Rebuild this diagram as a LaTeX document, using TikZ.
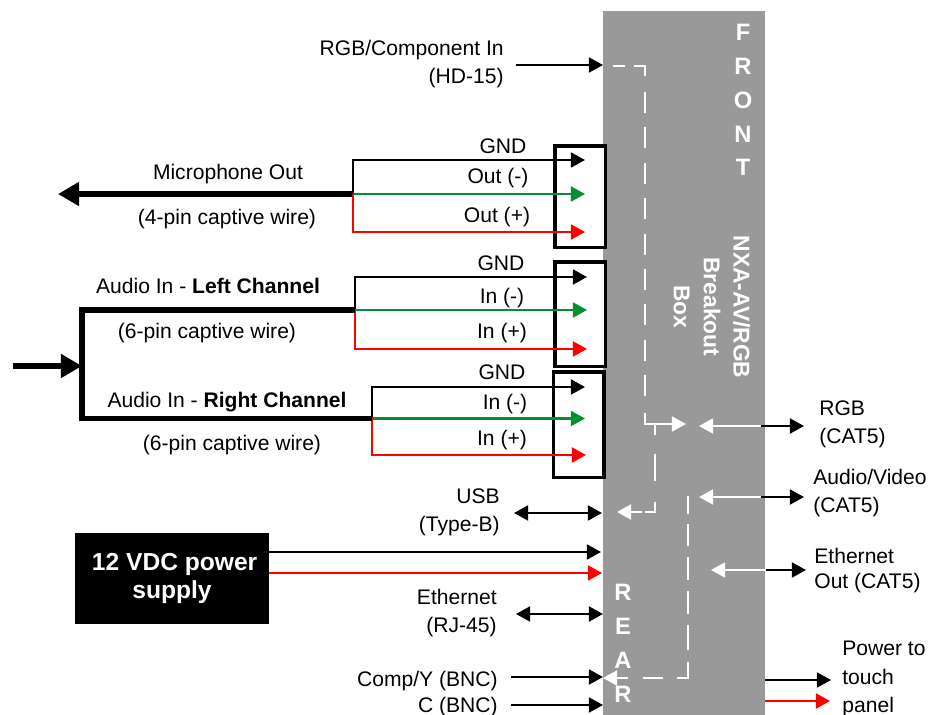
\documentclass[tikz,border=0pt]{standalone}
\usepackage{fontspec}
\setmainfont{Liberation Sans}
\usetikzlibrary{arrows.meta}
\definecolor{panelgray}{HTML}{999999}
\definecolor{wiregreen}{HTML}{009030}
\begin{document}
\begin{tikzpicture}[x=0.02cm,y=0.02cm]
\tikzstyle{every node}+=[inner sep=0pt]
\tikzstyle{lbl}=[font=\fontsize{12}{16}\selectfont]
\tikzstyle{lblleft}=[lbl,anchor=west,align=left]
\tikzstyle{lblright}=[lbl,anchor=east,align=right]
\tikzstyle{panellbl}=[text=white,align=center,font=\fontsize{13.5}{19.3}\selectfont\bfseries]
\tikzstyle{wire}=[line width=1.2pt,-{Triangle[length=8pt,width=8.5pt]}]
\tikzstyle{wirend}=[line width=1.2pt,{Triangle[length=8pt,width=8.5pt]}-{Triangle[length=8pt,width=8.5pt]}]
\tikzstyle{bigwire}=[line width=3.4pt,-{Triangle[length=12pt,width=13pt]}]
\tikzstyle{trunk}=[line width=3.4pt]
\tikzstyle{inner}=[white,line width=1.2pt]
\tikzstyle{innerdash}=[inner,dash pattern=on 11.9pt off 8.25pt]
\tikzstyle{terminal}=[draw=black,fill=white,line width=1.8pt,outer sep=0pt,anchor=north west]
\useasboundingbox (0,0) rectangle (929,-715);
\fill [panelgray] (603,-11) rectangle (765,-715);
\node [terminal,minimum width=28.5pt,minimum height=58pt] (micbox) at (555,-146) {};
\node [terminal,minimum width=28.5pt,minimum height=59.7pt] (leftbox) at (555,-262) {};
\node [terminal,minimum width=28.7pt,minimum height=60pt] (rightbox) at (553.5,-372) {};
\node [panellbl] (front) at (743,-100) {F\\R\\O\\N\\T};
\node [panellbl] (rear) at (623,-643) {R\\E\\A\\R};
\node [panellbl,font=\fontsize{13}{17}\selectfont\bfseries,rotate=-90] (model) at (712,-307) {NXA-AV/RGB\\Breakout\\Box};
\node [lblright] (hdin) at (504,-64) {RGB/Component In\\(HD-15)};
\node [lbl] (micout) at (228,-174) {Microphone Out};
\node [lbl] (micwire) at (227,-219) {(4-pin captive wire)};
\node [lbl] (micgnd) at (503,-146) {GND};
\node [lbl] (micneg) at (498,-178) {Out (-)};
\node [lbl] (micpos) at (497,-217) {Out (+)};
\node [lbl] (leftin) at (208,-286) {Audio In - \textbf{Left Channel}};
\node [lbl] (leftwire) at (207,-333) {(6-pin captive wire)};
\node [lbl] (leftgnd) at (501,-263) {GND};
\node [lbl] (leftneg) at (502,-298) {In (-)};
\node [lbl] (leftpos) at (502,-333) {In (+)};
\node [lbl] (rightin) at (227,-402) {Audio In - \textbf{Right Channel}};
\node [lbl] (rightwire) at (232,-445) {(6-pin captive wire)};
\node [lbl] (rightgnd) at (502,-372) {GND};
\node [lbl] (rightneg) at (505,-404) {In (-)};
\node [lbl] (rightpos) at (502,-440) {In (+)};
\node [lblright] (usb) at (500,-512) {USB\\(Type-B)};
\node [lblright] (enet) at (497,-613) {Ethernet\hspace{1pt}\\(RJ-45)};
\node [lblright] (comp) at (498,-681) {Comp/Y (BNC)};
\node [lblright] (cbnc) at (498,-707) {C (BNC)};
\node [lblleft] (rgbcat) at (819,-424.5) {RGB\\(CAT5)};
\node [lblleft] (avcat) at (813,-493) {Audio/Video\\(CAT5)};
\node [lblleft] (enetcat) at (814,-570.5) {Ethernet\\[-1.7pt]Out (CAT5)};
\node [lblleft] (touch) at (842,-679) {Power to\\touch\\panel};
\node [fill=black,text=white,align=center,minimum width=110.4pt,minimum height=51.8pt,font=\fontsize{14}{16}\selectfont\bfseries] (psu) at (172,-578.5) {\hspace{3pt}12 VDC power\\supply\hspace{2pt}};
\coordinate (micjoin) at (353,-194);
\coordinate (miclead) at (58,-194);
\coordinate (micgndA) at (353,-160);
\coordinate (micgndB) at (585,-160);
\coordinate (micnegB) at (585,-194);
\coordinate (micposA) at (353,-232);
\coordinate (micposB) at (585,-232);
\coordinate (leftjoin) at (355,-310);
\coordinate (leftgndA) at (355,-277);
\coordinate (leftgndB) at (587,-277);
\coordinate (leftnegB) at (587,-310);
\coordinate (leftposA) at (355,-349);
\coordinate (leftposB) at (587,-349);
\coordinate (rightjoin) at (372,-418.5);
\coordinate (rightgndA) at (372,-387);
\coordinate (rightgndB) at (585,-387);
\coordinate (rightnegB) at (585,-418.5);
\coordinate (rightposA) at (372,-455);
\coordinate (rightposB) at (586,-455);
\coordinate (trunktop) at (82,-310);
\coordinate (trunkbot) at (82,-418.5);
\coordinate (audiofeed) at (13,-366);
\coordinate (trunkmid) at (82,-366);
\draw [bigwire] (micjoin) -- (miclead);
\draw [black,wire] (micjoin) -- (micgndA) -- (micgndB);
\draw [wiregreen,wire] (micjoin) -- (micnegB);
\draw [red,wire] (micjoin) -- (micposA) -- (micposB);
\draw [black,wire] (leftjoin) -- (leftgndA) -- (leftgndB);
\draw [wiregreen,wire] (leftjoin) -- (leftnegB);
\draw [red,wire] (leftjoin) -- (leftposA) -- (leftposB);
\draw [black,wire] (rightjoin) -- (rightgndA) -- (rightgndB);
\draw [wiregreen,wire] (rightjoin) -- (rightnegB);
\draw [red,wire] (rightjoin) -- (rightposA) -- (rightposB);
\draw [trunk] (leftjoin) -- (trunktop) -- (trunkbot) -- (rightjoin);
\draw [bigwire] (audiofeed) -- (trunkmid);
\coordinate (hdA) at (516,-65);
\coordinate (hdB) at (603,-65);
\coordinate (usbA) at (514,-513);
\coordinate (usbB) at (602,-513);
\coordinate (psuredA) at (269,-573);
\coordinate (psuredB) at (602,-573);
\coordinate (psublkA) at (269,-552);
\coordinate (psublkB) at (601,-552);
\coordinate (enetA) at (516,-614);
\coordinate (enetB) at (603,-614);
\coordinate (compA) at (511,-677);
\coordinate (compB) at (603,-677);
\coordinate (cbncA) at (511,-705);
\coordinate (cbncB) at (603,-705);
\draw [black,wire] (hdA) -- (hdB);
\draw [black,wirend] (usbA) -- (usbB);
\draw [black,wire] (psublkA) -- (psublkB);
\draw [red,wire] (psuredA) -- (psuredB);
\draw [black,wirend] (enetA) -- (enetB);
\draw [black,wire] (compA) -- (compB);
\draw [black,wire] (cbncA) -- (cbncB);
\coordinate (pwrA) at (765,-680);
\coordinate (pwrB) at (831,-680);
\coordinate (pwrC) at (765,-701);
\coordinate (pwrD) at (830,-701);
\draw [black,wire] (pwrA) -- (pwrB);
\draw [red,wire] (pwrC) -- (pwrD);
\coordinate (rgbedge) at (761,-426);
\coordinate (rgbtip) at (699,-426);
\coordinate (rgbout) at (804,-426);
\coordinate (avedge) at (761,-497);
\coordinate (avtip) at (699,-497);
\coordinate (avout) at (804,-497);
\coordinate (enetedge) at (766,-570);
\coordinate (enettip) at (711,-570);
\coordinate (enetout) at (806,-570);
\draw [white,wire] (rgbedge) -- (rgbtip);
\draw [black,wire] (rgbedge) -- (rgbout);
\draw [white,wire] (avedge) -- (avtip);
\draw [black,wire] (avedge) -- (avout);
\draw [white,wire] (enetedge) -- (enettip);
\draw [black,wire] (enetedge) -- (enetout);
\coordinate (hdrunA) at (613,-66);
\coordinate (hdrunB) at (645,-66);
\coordinate (hdrunC) at (645,-76);
\coordinate (hdrunD) at (645,-92);
\coordinate (hdrunE) at (645,-400);
\coordinate (hdrunF) at (645,-413);
\coordinate (hdrunG) at (645,-424);
\coordinate (hdrunH) at (686,-424);
\coordinate (usbrunA) at (655,-425);
\coordinate (usbrunB) at (655,-512);
\coordinate (usbrunC) at (645,-512);
\coordinate (usbrunD) at (642,-512);
\coordinate (usbrunE) at (617,-512);
\coordinate (comprunA) at (688,-496);
\coordinate (comprunB) at (688,-678);
\coordinate (comprunC) at (628,-678);
\coordinate (comprunD) at (603,-678);
\draw [inner,dash pattern=on 6.8pt off 5.1pt on 12pt off 20pt] (hdrunA) -- (hdrunB) -- (hdrunC);
\draw [innerdash] (hdrunD) -- (hdrunE);
\draw [inner,wire] (hdrunF) -- (hdrunG) -- (hdrunH);
\draw [inner,dash pattern=on 5.7pt off 10.8pt on 15.4pt off 11.9pt on 11.4pt off 20pt] (usbrunA) -- (usbrunB) -- (usbrunC);
\draw [inner,wire] (usbrunD) -- (usbrunE);
\draw [inner,dash pattern=on 10.2pt off 5.7pt on 12.5pt off 6.3pt on 13.1pt off 6.3pt on 13.1pt off 6.3pt on 14.2pt off 6.8pt on 15.4pt off 8pt on 11.4pt off 8.5pt] (comprunA) -- (comprunB) -- (comprunC);
\draw [inner,wire] (comprunC) -- (comprunD);
\end{tikzpicture}
\end{document}
